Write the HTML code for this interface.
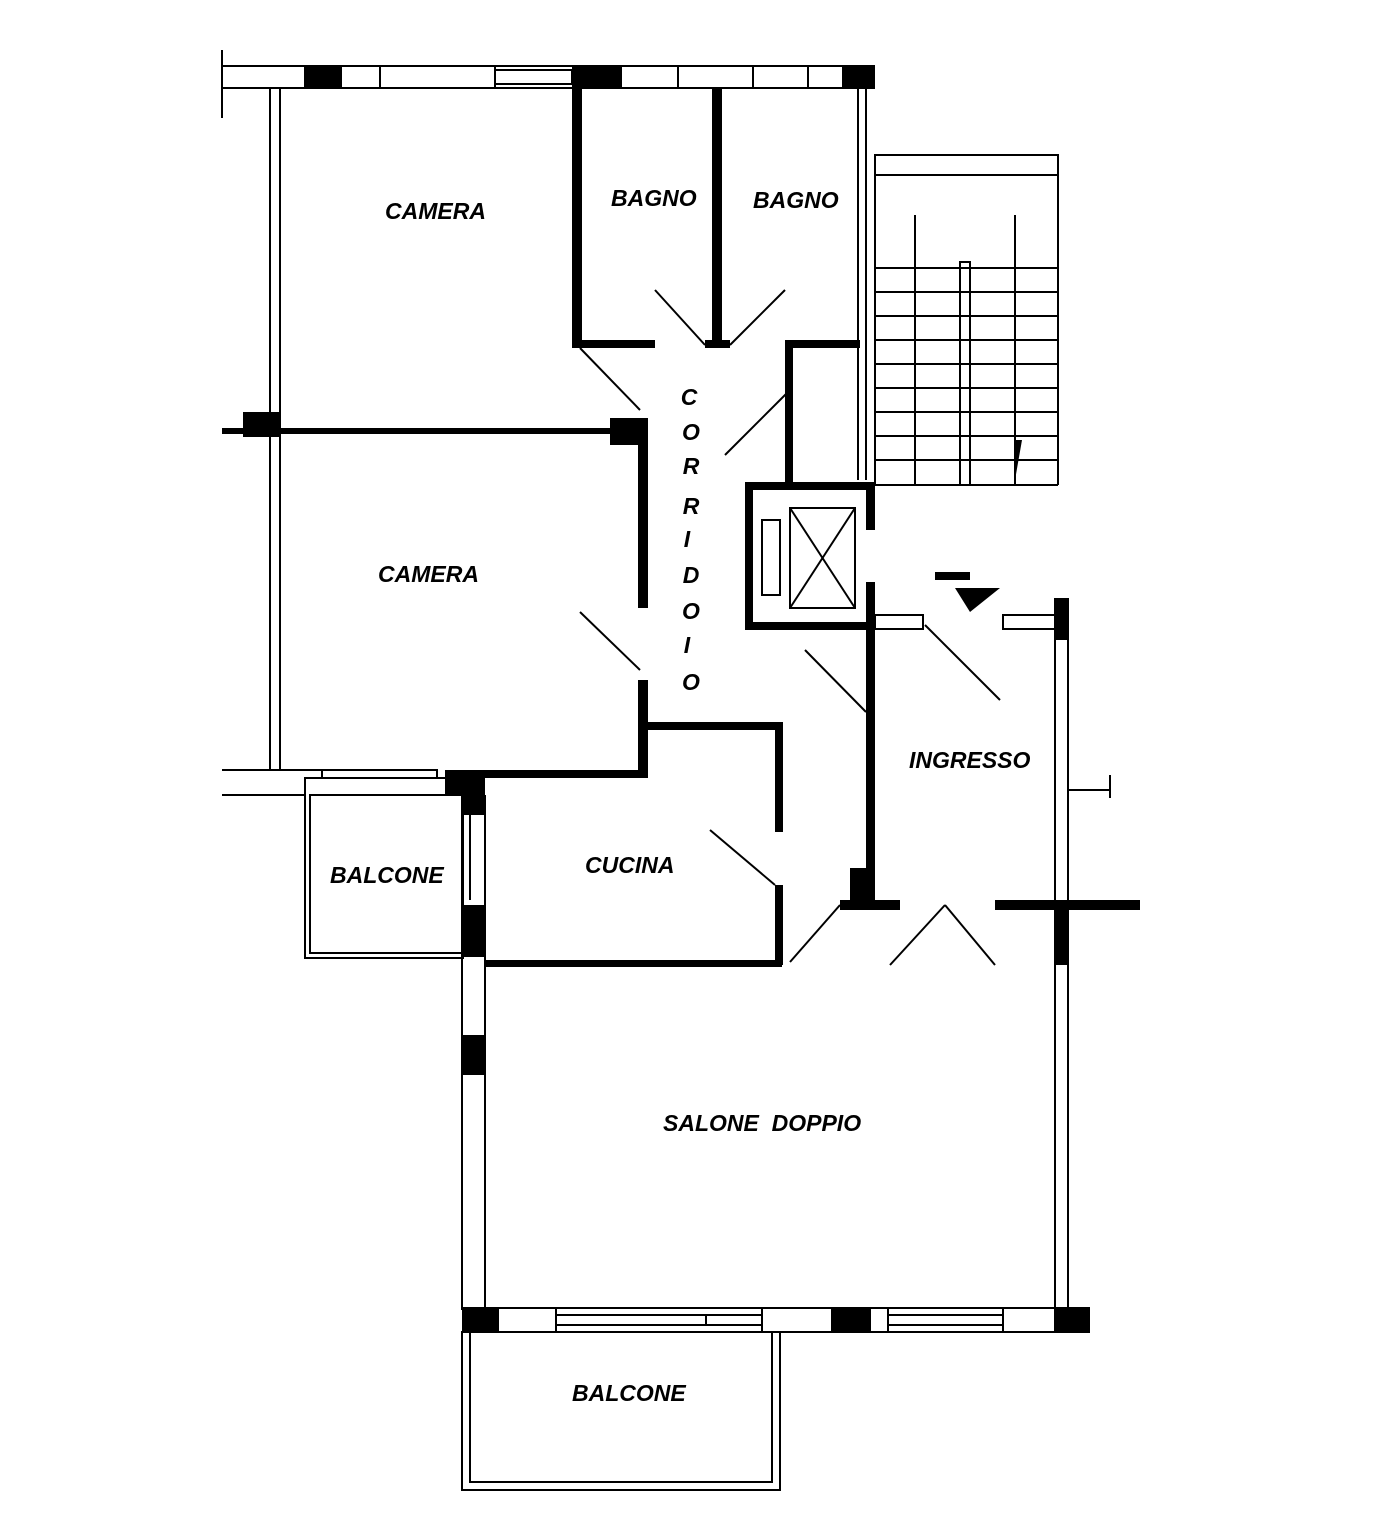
<!DOCTYPE html>
<html><head><meta charset="utf-8"><style>
html,body{margin:0;padding:0;background:#fff}
svg{display:block}
text{font-family:"Liberation Sans",sans-serif;font-weight:bold;font-style:italic;font-size:23px;fill:#000}
</style></head><body>
<svg width="1387" height="1533" viewBox="0 0 1387 1533" xmlns="http://www.w3.org/2000/svg">
<g stroke="#000" fill="none" stroke-width="2">
<!-- top wall -->
<line x1="222" y1="66" x2="875" y2="66"/><line x1="222" y1="88" x2="875" y2="88"/>
<line x1="222" y1="50" x2="222" y2="118"/>
<rect x="380" y="66" width="115" height="22"/><rect x="495" y="70" width="77" height="14"/>
<rect x="678" y="66" width="75" height="22"/><rect x="808" y="66" width="35" height="22"/>
<!-- left wall -->
<line x1="270" y1="88" x2="270" y2="770"/><line x1="280" y1="88" x2="280" y2="770"/>
<line x1="222" y1="88" x2="270" y2="88"/>
<line x1="222" y1="770" x2="322" y2="770"/><line x1="222" y1="795" x2="305" y2="795"/>
<!-- camera2 bottom window -->
<rect x="322" y="770" width="115" height="8"/>
<!-- balcone left -->
<rect x="305" y="778" width="158" height="180"/><rect x="310" y="795" width="153" height="158"/>
<line x1="462" y1="795" x2="462" y2="1310"/><line x1="485" y1="795" x2="485" y2="1310"/>
<line x1="470" y1="815" x2="470" y2="900"/>
<!-- ingresso right walls -->
<line x1="1055" y1="598" x2="1055" y2="1310"/><line x1="1068" y1="598" x2="1068" y2="1310"/>
<line x1="1068" y1="790" x2="1110" y2="790"/><line x1="1110" y1="775" x2="1110" y2="798"/>
<rect x="875" y="615" width="48" height="14"/><rect x="1003" y="615" width="52" height="14"/>
<!-- right of bagno -->
<line x1="858" y1="88" x2="858" y2="480"/><line x1="866" y1="88" x2="866" y2="480"/>
<!-- stairs -->
<rect x="875" y="155" width="183" height="20"/>
<line x1="875" y1="175" x2="875" y2="485"/><line x1="1058" y1="155" x2="1058" y2="485"/>
<line x1="875" y1="485" x2="1058" y2="485"/>
<rect x="960" y="262" width="10" height="223"/>
<line x1="875" y1="268" x2="1058" y2="268"/><line x1="875" y1="292" x2="1058" y2="292"/>
<line x1="875" y1="316" x2="1058" y2="316"/><line x1="875" y1="340" x2="1058" y2="340"/>
<line x1="875" y1="364" x2="1058" y2="364"/><line x1="875" y1="388" x2="1058" y2="388"/>
<line x1="875" y1="412" x2="1058" y2="412"/><line x1="875" y1="436" x2="1058" y2="436"/>
<line x1="875" y1="460" x2="1058" y2="460"/>
<line x1="915" y1="215" x2="915" y2="485"/><line x1="1015" y1="215" x2="1015" y2="485"/>
<!-- elevator inner -->
<rect x="790" y="508" width="65" height="100"/>
<line x1="790" y1="508" x2="855" y2="608"/><line x1="855" y1="508" x2="790" y2="608"/>
<rect x="762" y="520" width="18" height="75"/>
<!-- salone bottom windows -->
<line x1="462" y1="1308" x2="1090" y2="1308"/><line x1="462" y1="1332" x2="1090" y2="1332"/>
<rect x="498" y="1308" width="58" height="24"/><rect x="556" y="1315" width="150" height="10"/>
<rect x="706" y="1315" width="56" height="10"/><rect x="762" y="1308" width="70" height="24"/>
<rect x="870" y="1308" width="18" height="24"/><rect x="888" y="1315" width="115" height="10"/>
<rect x="1003" y="1308" width="52" height="24"/>
<!-- bottom balcone -->
<rect x="462" y="1332" width="318" height="158"/><rect x="470" y="1332" width="302" height="150"/>
<!-- door swings -->
<line x1="580" y1="348" x2="640" y2="410"/><line x1="655" y1="290" x2="705" y2="345"/>
<line x1="730" y1="345" x2="785" y2="290"/><line x1="725" y1="455" x2="790" y2="390"/>
<line x1="580" y1="612" x2="640" y2="670"/><line x1="710" y1="830" x2="775" y2="885"/>
<line x1="790" y1="962" x2="840" y2="905"/><line x1="805" y1="650" x2="866" y2="712"/>
<line x1="925" y1="625" x2="1000" y2="700"/><line x1="890" y1="965" x2="945" y2="905"/>
<line x1="945" y1="905" x2="995" y2="965"/>
</g>
<g fill="#000">
<rect x="304" y="66" width="38" height="22"/><rect x="572" y="66" width="50" height="22"/><rect x="843" y="66" width="32" height="22"/>
<rect x="572" y="88" width="10" height="258"/><rect x="572" y="340" width="83" height="8"/>
<rect x="712" y="88" width="10" height="258"/><rect x="705" y="340" width="25" height="8"/>
<rect x="785" y="340" width="75" height="8"/><rect x="785" y="340" width="8" height="145"/>
<rect x="222" y="428" width="418" height="6"/><rect x="243" y="412" width="37" height="25"/><rect x="610" y="418" width="30" height="27"/>
<rect x="638" y="418" width="10" height="190"/><rect x="638" y="680" width="10" height="98"/>
<rect x="485" y="770" width="163" height="8"/><rect x="445" y="770" width="40" height="25"/><rect x="463" y="795" width="22" height="20"/>
<rect x="648" y="722" width="134" height="8"/><rect x="775" y="722" width="8" height="110"/><rect x="775" y="885" width="8" height="80"/>
<rect x="485" y="960" width="297" height="7"/><rect x="462" y="905" width="22" height="52"/>
<rect x="745" y="482" width="130" height="8"/><rect x="745" y="622" width="130" height="8"/>
<rect x="745" y="482" width="8" height="148"/><rect x="866" y="482" width="9" height="48"/><rect x="866" y="582" width="9" height="48"/>
<rect x="866" y="630" width="9" height="275"/><rect x="850" y="868" width="25" height="40"/>
<rect x="840" y="900" width="60" height="10"/><rect x="995" y="900" width="145" height="10"/>
<rect x="1055" y="598" width="13" height="42"/><rect x="1055" y="900" width="13" height="65"/>
<rect x="462" y="1035" width="23" height="40"/>
<rect x="462" y="1308" width="36" height="24"/><rect x="832" y="1308" width="38" height="24"/><rect x="1055" y="1308" width="35" height="24"/>
<rect x="935" y="572" width="35" height="8"/><polygon points="955,588 1000,588 970,612"/>
<polygon points="1015,440 1022,440 1015,480"/>
</g>
<text x="385" y="219">CAMERA</text>
<text x="611" y="206">BAGNO</text>
<text x="753" y="208">BAGNO</text>
<text x="378" y="582">CAMERA</text>
<text x="909" y="768">INGRESSO</text>
<text x="330" y="883">BALCONE</text>
<text x="585" y="873">CUCINA</text>
<text x="663" y="1131">SALONE&#160; DOPPIO</text>
<text x="572" y="1401">BALCONE</text>
<g text-anchor="middle">
<text x="689" y="405">C</text><text x="691" y="440">O</text><text x="691" y="474">R</text>
<text x="691" y="514">R</text><text x="687" y="547">I</text><text x="691" y="583">D</text>
<text x="691" y="619">O</text><text x="687" y="653">I</text><text x="691" y="690">O</text>
</g>
</svg>
</body></html>
